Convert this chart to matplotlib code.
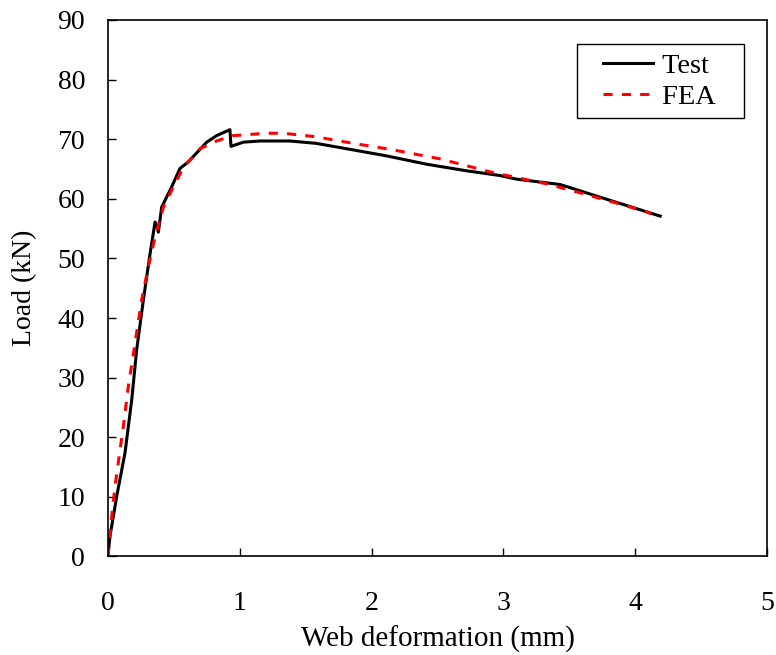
import numpy as np
import matplotlib.pyplot as plt
from matplotlib.legend_handler import HandlerLine2D

plt.rcParams['font.family'] = ['Liberation Serif', 'DejaVu Serif']

# test curve (web deformation mm, load kN)
test_x = [0.0, 0.015, 0.066, 0.129, 0.18, 0.217, 0.268, 0.319, 0.357, 0.37, 0.382,
          0.407, 0.483, 0.546, 0.609, 0.698, 0.749, 0.824, 0.925, 0.933, 1.027,
          1.153, 1.38, 1.58, 1.836, 2.114, 2.418, 2.72, 2.975, 3.1, 3.43, 3.73, 4.19]
test_y = [0.3, 3.4, 10.1, 17.4, 26.3, 34.6, 43.0, 50.8, 56.1, 55.5, 54.4,
          58.6, 62.0, 65.1, 66.2, 68.3, 69.5, 70.6, 71.6, 68.8, 69.5,
          69.7, 69.7, 69.3, 68.3, 67.2, 65.8, 64.7, 63.9, 63.3, 62.4, 60.3, 57.1]

# FEA curve
fea_x = [0.0, 0.02, 0.053, 0.116, 0.154, 0.205, 0.255, 0.306, 0.357, 0.42, 0.496,
         0.572, 0.698, 0.824, 0.95, 1.2, 1.33, 1.58, 1.86, 2.14, 2.52, 2.92,
         3.33, 3.6, 4.06, 4.12]
fea_y = [0.0, 5.0, 11.8, 21.8, 28.5, 35.8, 43.0, 48.6, 53.6, 58.6, 62.0,
         65.3, 68.4, 69.7, 70.6, 71.0, 71.0, 70.4, 69.3, 68.3, 66.7, 64.4,
         62.5, 60.9, 58.0, 57.5]

fig = plt.figure(figsize=(7.76, 6.55), dpi=100)
ax = fig.add_axes([0.1392, 0.1504, 0.8492, 0.8191])

ax.plot(test_x, test_y, color='k', lw=2.2, label='Test   ')
ax.plot(fea_x, fea_y, color='red', lw=2.2, ls=(0, (3, 3)), label='FEA   ')

ax.set_xlim(0, 5)
ax.set_ylim(0, 90)
ax.set_xticks(range(0, 6))
ax.set_yticks(range(0, 91, 10))
ax.tick_params(direction='in', length=6, width=1, labelsize=20)
ax.tick_params(axis='x', pad=25)
ax.tick_params(axis='y', pad=16.5)
for s in ax.spines.values():
    s.set_linewidth(1.2)

ax.set_xlabel('Web deformation (mm)', fontsize=21, labelpad=7)
ax.set_ylabel('Load (kN)', fontsize=20, labelpad=14.5)

hl = HandlerLine2D(xpad=0.6)
leg = ax.legend(loc='upper right', bbox_to_anchor=(0.965, 0.955), borderaxespad=0,
                fontsize=20.5, fancybox=False, edgecolor='k', framealpha=1,
                handlelength=2.35, handletextpad=0.32, borderpad=0.3,
                labelspacing=0.18,
                handler_map={plt.Line2D: hl})
leg.get_frame().set_linewidth(1.0)

fig.savefig('out.png', dpi=100)
